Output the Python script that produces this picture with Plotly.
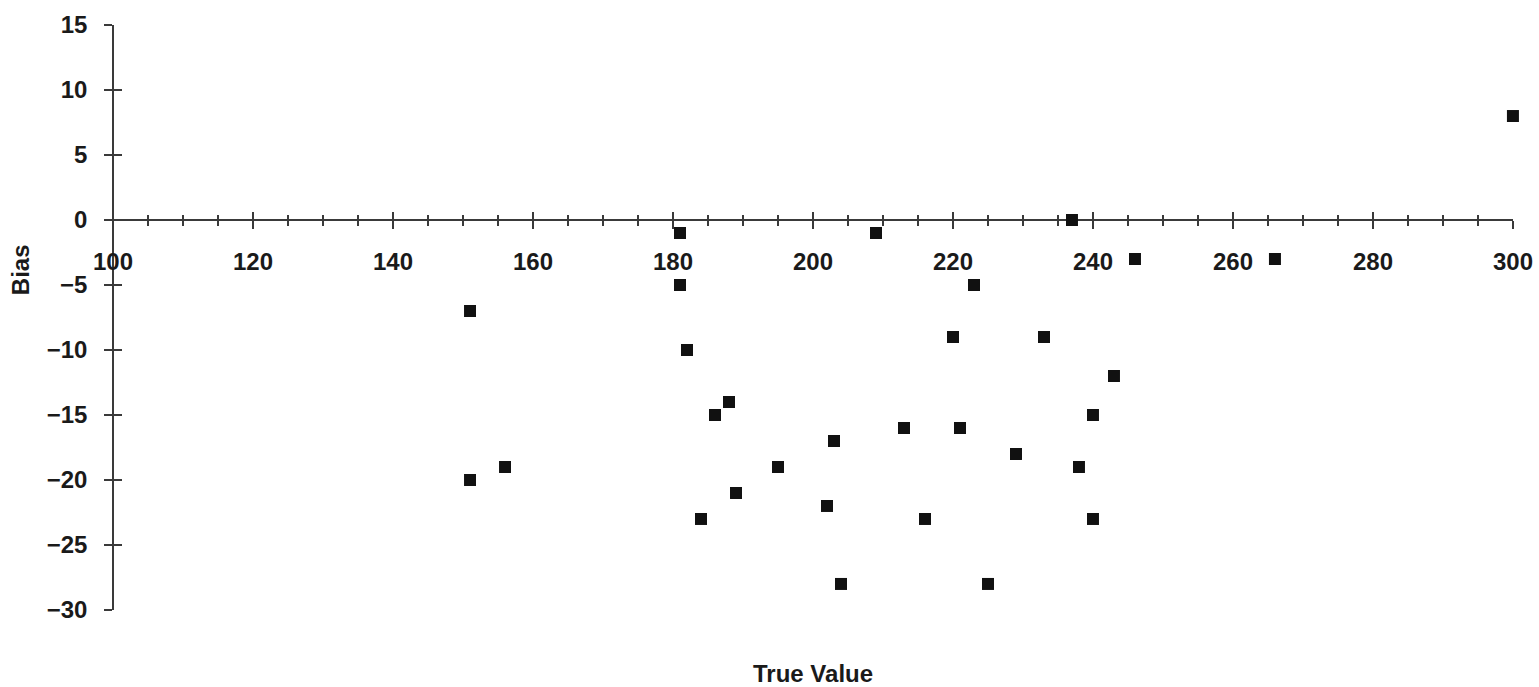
import plotly.graph_objects as go

true_value = [300, 181, 209, 237, 246, 266, 151, 181, 223, 182, 220, 233, 243,
              186, 188, 213, 221, 203, 240, 229, 195, 238, 156, 151, 189, 202,
              184, 216, 240, 204, 225]
bias = [8, -1, -1, 0, -3, -3, -7, -5, -5, -10, -9, -9, -12,
        -15, -14, -16, -16, -17, -15, -18, -19, -19, -19, -20, -21, -22,
        -23, -23, -23, -28, -28]

x_range = [100, 300]
y_range = [-30, 15]
x_title = "True Value"
y_title = "Bias"

FONT = "Liberation Sans, Arial, sans-serif"
AX = "#3a3a3a"
TXT = "#1a1a1a"

fig = go.Figure()
# invisible copy on the main axes (axis lines, outward ticks, labels)
fig.add_trace(go.Scatter(
    x=true_value, y=bias, mode="markers",
    marker=dict(size=1, opacity=0), showlegend=False, hoverinfo="skip",
))
# visible data on a second subplot with the same domain (inward ticks -> crossing ticks)
fig.add_trace(go.Scatter(
    x=true_value, y=bias, mode="markers", xaxis="x2", yaxis="y2",
    marker=dict(symbol="square", size=12, color="#111111", line=dict(width=0)),
    showlegend=False, hoverinfo="x+y", cliponaxis=False,
))

cross = (0 - y_range[0]) / (y_range[1] - y_range[0])
eps_x, eps_y = 0.01, 0.003

common_x = dict(domain=[0, 1], anchor="free", position=cross, automargin=False,
                showgrid=False, zeroline=False, tick0=100, dtick=20, tickwidth=1.5, tickcolor=AX)
common_y = dict(domain=[0, 1], anchor="free", position=0, side="left", automargin=False,
                showgrid=False, zeroline=False, tick0=-30, dtick=5, tickwidth=1.5, tickcolor=AX)

fig.update_layout(
    width=1539, height=687,
    margin=dict(l=113, r=26, t=25, b=77, autoexpand=False),
    paper_bgcolor="white", plot_bgcolor="rgba(0,0,0,0)",
    font=dict(family=FONT, color=TXT),
    xaxis=dict(
        **common_x, range=x_range,
        showline=True, linecolor=AX, linewidth=1.6,
        ticks="outside", ticklen=8,
        minor=dict(dtick=5, tick0=100, ticks="outside", ticklen=5, tickwidth=1.5, tickcolor=AX),
        tickfont=dict(family=FONT, size=24, color=TXT, weight="bold"),
        ticklabelstandoff=12,
    ),
    xaxis2=dict(
        **common_x, range=[x_range[0] - eps_x, x_range[1] + eps_x],
        showline=False, ticks="inside", ticklen=8, showticklabels=False,
        minor=dict(dtick=5, tick0=100, ticks="inside", ticklen=5, tickwidth=1.5, tickcolor=AX),
    ),
    yaxis=dict(
        **common_y, range=y_range,
        showline=True, linecolor=AX, linewidth=1.6,
        ticks="outside", ticklen=8,
        tickfont=dict(family=FONT, size=24, color=TXT, weight="bold"),
        ticklabelstandoff=12,
    ),
    yaxis2=dict(
        **common_y, range=[y_range[0] - eps_y, y_range[1] + eps_y],
        showline=False, ticks="inside", ticklen=8, showticklabels=False,
    ),
    annotations=[
        dict(text=f"<b>{x_title}</b>", xref="paper", yref="paper", x=0.5, y=-0.109,
             xanchor="center", yanchor="middle", showarrow=False,
             font=dict(family=FONT, size=24, color=TXT)),
        dict(text=f"<b>{y_title}</b>", xref="paper", yref="paper", x=-0.0664, y=0.581,
             xanchor="center", yanchor="middle", textangle=-90, showarrow=False,
             font=dict(family=FONT, size=24, color=TXT)),
    ],
)

fig.write_html("out.html")
